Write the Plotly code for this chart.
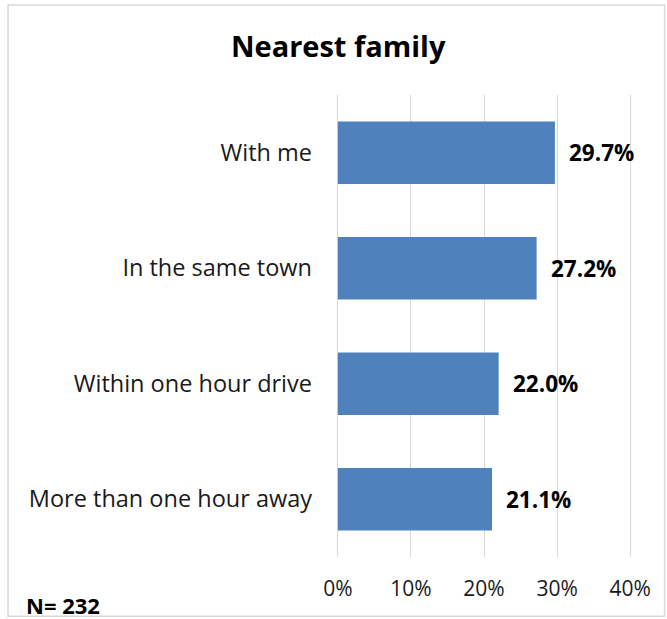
import plotly.graph_objects as go

categories = ["With me", "In the same town", "Within one hour drive", "More than one hour away"]
shares = [29.7, 27.2, 22.0, 21.1]
tick_values = [0, 10, 20, 30, 40]
tick_labels = ["0%", "10%", "20%", "30%", "40%"]
chart_title = "Nearest family"
sample_note = "N= 232"

font_family = "Open Sans, Liberation Sans, sans-serif"

fig = go.Figure()
fig.add_trace(go.Bar(
    y=categories, x=shares, orientation="h",
    marker=dict(color="#4F81BD", line=dict(width=0)),
    width=0.54, hoverinfo="skip",
))

# value labels, bold, a little right of each bar
for cat, val in zip(categories, shares):
    fig.add_annotation(x=val, y=cat, text="<b>%.1f%%</b>" % val, showarrow=False,
                       xanchor="left", xshift=12, font=dict(size=22.5, color="#000000"))

fig.add_annotation(xref="paper", yref="paper", x=-1.055, y=-0.104, text="<b>" + sample_note + "</b>",
                   showarrow=False, xanchor="left", yanchor="middle",
                   font=dict(size=22, color="#000000"))

# outer chart border
fig.add_shape(type="rect", xref="paper", yref="paper", x0=-1.108, x1=1.11, y0=-0.128, y1=1.195,
              line=dict(color="#D9D9D9", width=1.5), layer="below")

fig.update_layout(
    width=667, height=619,
    margin=dict(l=336, r=35, t=95, b=62),
    paper_bgcolor="white", plot_bgcolor="white",
    font=dict(family=font_family, color="#000000"),
    title=dict(text="<b>" + chart_title + "</b>", x=0.507, xanchor="center", y=0.924, yanchor="middle",
               font=dict(size=29, color="#000000")),
    showlegend=False,
    bargap=0.46,
)
# padding on the range so the 0% and 40% gridlines are drawn
fig.update_xaxes(range=[-0.25, 40.25], tickvals=tick_values, ticktext=tick_labels,
                 showgrid=True, gridcolor="#D9D9D9", gridwidth=1.3, zeroline=False,
                 showline=False, ticks="", ticklabelstandoff=17,
                 tickfont=dict(size=21, color="#1a1a1a"), fixedrange=True)
fig.update_yaxes(categoryorder="array", categoryarray=categories[::-1], autorange=True,
                 showgrid=False, zeroline=False, showline=False, ticks="",
                 ticklabelstandoff=23, tickfont=dict(size=23.5, color="#1a1a1a"), fixedrange=True)

fig.write_html("out.html", config={"displayModeBar": False},
               post_script="document.body.style.margin='0';")
